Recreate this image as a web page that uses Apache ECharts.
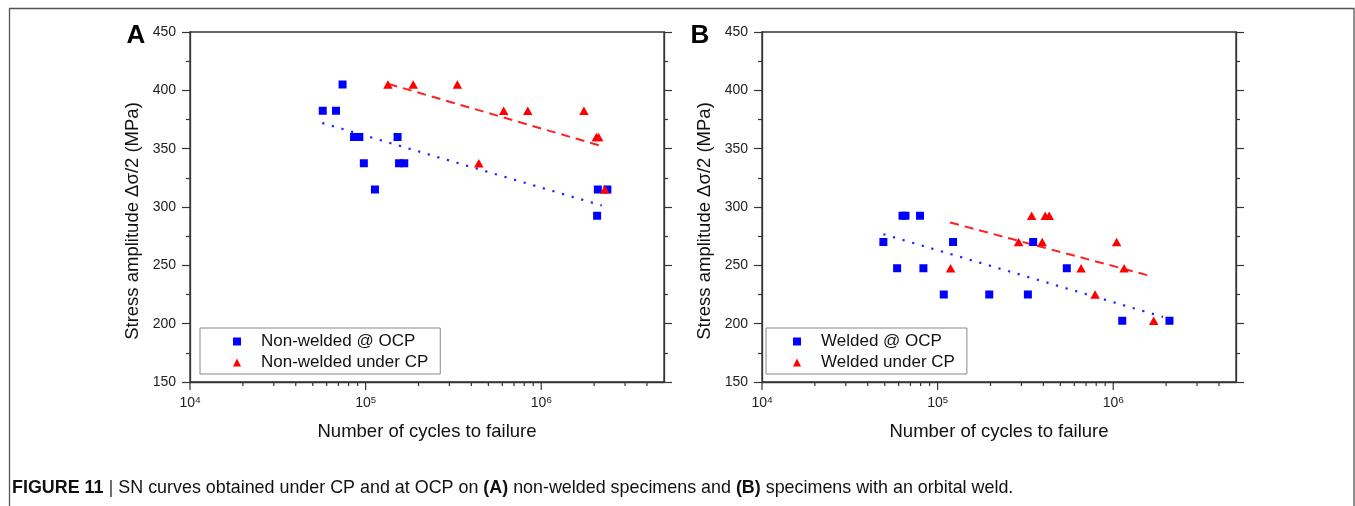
<!DOCTYPE html>
<html lang="en">
<head>
<meta charset="UTF-8">
<title>SN curves under CP and at OCP</title>
<script src="https://cdn.jsdelivr.net/npm/echarts/dist/echarts.min.js"></script>
<style>
    html, body { margin: 0; padding: 0; background: #fff; }
    #main { width: 1355px; height: 506px; }
</style>
</head>
<body>
<div id="main"></div>
<script>
// (A) non-welded specimens
var ocpA_N = [57000, 67800, 73900, 85900, 92100, 97700, 113000, 152000, 155000, 166000, 2080000, 2100000, 2380000];
var ocpA_S = [382.5, 382.5, 405, 360, 360, 337.5, 315, 360, 337.5, 337.5, 292.5, 315, 315];
var cpA_N = [134000, 186600, 333000, 441000, 611000, 838000, 1750000, 2060000, 2120000, 2300000];
var cpA_S = [405, 405, 405, 337.5, 382.5, 382.5, 382.5, 360, 360, 315];
// fitted lines, end points
var fitOcpA_N = [56600, 2210000];
var fitOcpA_S = [372, 301.3];
var fitCpA_N = [135000, 2290000];
var fitCpA_S = [405.5, 351.5];

// (B) specimens with an orbital weld
var ocpB_N = [49100, 63100, 65600, 79400, 58800, 83000, 122400, 108400, 196800, 326600, 350000, 544000, 1125000, 2090000];
var ocpB_S = [270, 292.5, 292.5, 292.5, 247.5, 247.5, 270, 225, 225, 225, 270, 247.5, 202.5, 202.5];
var cpB_N = [118500, 289000, 343000, 410000, 432000, 394000, 656000, 788000, 1045000, 1153000, 1700000];
var cpB_S = [247.5, 270, 292.5, 292.5, 292.5, 270, 247.5, 225, 270, 247.5, 202.5];
var fitOcpB_N = [49100, 1920000];
var fitOcpB_S = [276.7, 205.8];
var fitCpB_N = [117800, 1580000];
var fitCpB_S = [286.7, 241.4];

// axes
var yTicks = [150, 200, 250, 300, 350, 400, 450];
var xDecades = [10000, 100000, 1000000];
var xMinorTicks = [20000, 30000, 40000, 50000, 60000, 70000, 80000, 90000,
    200000, 300000, 400000, 500000, 600000, 700000, 800000, 900000,
    2000000, 3000000, 4000000];
var xMin = 10000, xMax = 5000000;

var FONT = "'Liberation Sans', Arial, sans-serif";
var AXIS = '#333';

function pairs(xs, ys) {
    return xs.map(function (x, i) { return [x, ys[i]]; });
}

function xAxisFor(gi) {
    return {
        type: 'log', logBase: 10, gridIndex: gi, min: xMin, max: xMax,
        name: 'Number of cycles to failure', nameLocation: 'middle', nameGap: 40,
        nameMoveOverlap: false,
        nameTextStyle: { fontSize: 18.5, color: '#111', fontFamily: FONT },
        axisLine: { lineStyle: { color: AXIS, width: 1.3 } },
        axisTick: { show: false },
        splitLine: { show: false },
        axisLabel: {
            margin: 13,
            hideOverlap: false,
            formatter: function (v) {
                for (var i = 0; i < xDecades.length; i++) {
                    if (Math.abs(v - xDecades[i]) < 1e-6 * xDecades[i]) {
                        return '{b|10}{s|' + Math.round(Math.log10(v)) + '}';
                    }
                }
                return '';
            },
            rich: {
                b: { fontSize: 14, color: '#222', fontFamily: FONT, verticalAlign: 'bottom', lineHeight: 15 },
                s: { fontSize: 9.5, color: '#222', fontFamily: FONT, verticalAlign: 'top', lineHeight: 9 }
            }
        }
    };
}

function yAxisFor(gi, side) {
    var left = side === 'left';
    return {
        type: 'value', gridIndex: gi, position: side,
        min: yTicks[0], max: yTicks[yTicks.length - 1], interval: yTicks[1] - yTicks[0],
        name: left ? 'Stress amplitude \u0394\u03c3/2 (MPa)' : '',
        nameLocation: 'middle', nameGap: 48, nameMoveOverlap: false,
        nameTextStyle: { fontSize: 18.5, color: '#111', fontFamily: FONT, padding: [0, 28, 0, 0] },
        axisLine: { show: true, lineStyle: { color: AXIS, width: 1.3 } },
        axisTick: { show: true, length: 8, lineStyle: { color: AXIS, width: 1.2 } },
        minorTick: { show: true, splitNumber: 2, length: 4, lineStyle: { color: AXIS, width: 1.2 } },
        splitLine: { show: false },
        axisLabel: { show: left, fontSize: 14, color: '#222', fontFamily: FONT, margin: 14 }
    };
}

// ticks of the log axis: decades long, 2..9 short
function xTickSeries(gi, values, len) {
    return {
        type: 'custom', xAxisIndex: gi, yAxisIndex: gi * 2, silent: true, clip: false, z: 5,
        data: values.map(function (v) { return [v, yTicks[0]]; }),
        renderItem: function (params, api) {
            var p = api.coord([api.value(0), api.value(1)]);
            return {
                type: 'line',
                shape: { x1: p[0], y1: p[1], x2: p[0], y2: p[1] + len },
                style: { stroke: AXIS, lineWidth: 1.2 }
            };
        }
    };
}

function fitLine(name, gi, xs, ys, color, dash, width) {
    return {
        name: name, type: 'line', xAxisIndex: gi, yAxisIndex: gi * 2,
        data: pairs(xs, ys), showSymbol: false, symbol: 'none', silent: true, z: 2,
        lineStyle: { color: color, width: width, type: dash }
    };
}

function points(name, gi, xs, ys, color, symbol, size) {
    return {
        name: name, type: 'scatter', xAxisIndex: gi, yAxisIndex: gi * 2,
        data: pairs(xs, ys), symbol: symbol, symbolSize: size, z: 3,
        itemStyle: { color: color, opacity: 1 }
    };
}

function legendFor(names, left, padLeft) {
    return {
        orient: 'vertical', left: left, top: 328,
        data: [{ name: names[0], icon: 'rect' }, { name: names[1], icon: 'triangle' }],
        padding: [5, 12, 3, padLeft], itemGap: 4, itemWidth: 8, itemHeight: 8,
        borderColor: '#888', borderWidth: 1, backgroundColor: '#fff',
        selectedMode: false,
        textStyle: { fontSize: 17, color: '#111', fontFamily: FONT, lineHeight: 17, padding: [0, 0, 0, 15] }
    };
}

var myChart = echarts.init(document.getElementById('main'));

var option = {
    animation: false,
    backgroundColor: '#fff',
    textStyle: { fontFamily: FONT },
    grid: [
        { left: 190, top: 32, width: 474, height: 350, show: true, borderColor: AXIS, borderWidth: 1.3, outerBoundsMode: 'none', containLabel: false },
        { left: 762, top: 32, width: 474, height: 350, show: true, borderColor: AXIS, borderWidth: 1.3, outerBoundsMode: 'none', containLabel: false }
    ],
    xAxis: [xAxisFor(0), xAxisFor(1)],
    yAxis: [yAxisFor(0, 'left'), yAxisFor(0, 'right'), yAxisFor(1, 'left'), yAxisFor(1, 'right')],
    legend: [
        legendFor(['Non-welded @ OCP', 'Non-welded under CP'], 200, 33),
        legendFor(['Welded @ OCP', 'Welded under CP'], 766, 27)
    ],
    series: [
        xTickSeries(0, xDecades, 8),
        xTickSeries(0, xMinorTicks, 4),
        xTickSeries(1, xDecades, 8),
        xTickSeries(1, xMinorTicks, 4),
        fitLine('fit A OCP', 0, fitOcpA_N, fitOcpA_S, '#2222ff', [2.2, 7.8], 2.2),
        fitLine('fit A CP', 0, fitCpA_N, fitCpA_S, '#ff2020', [9, 6], 2),
        fitLine('fit B OCP', 1, fitOcpB_N, fitOcpB_S, '#2222ff', [2.2, 7.8], 2.2),
        fitLine('fit B CP', 1, fitCpB_N, fitCpB_S, '#ff2020', [9, 6], 2),
        points('Non-welded @ OCP', 0, ocpA_N, ocpA_S, '#0000ff', 'rect', 8),
        points('Non-welded under CP', 0, cpA_N, cpA_S, '#ff0000', 'triangle', [9.5, 8.5]),
        points('Welded @ OCP', 1, ocpB_N, ocpB_S, '#0000ff', 'rect', 8),
        points('Welded under CP', 1, cpB_N, cpB_S, '#ff0000', 'triangle', [9.5, 8.5])
    ],
    graphic: [
        {
            type: 'polyline', silent: true,
            shape: { points: [[9.5, 506], [9.5, 8.5], [1354, 8.5], [1354, 506]] },
            style: { stroke: '#555', lineWidth: 1.3, fill: null }
        },
        { type: 'text', x: 136, y: 36, style: { text: 'A', fontSize: 26, fontWeight: 'bold', fontFamily: FONT, fill: '#000', align: 'center', verticalAlign: 'middle' } },
        { type: 'text', x: 700, y: 36, style: { text: 'B', fontSize: 26, fontWeight: 'bold', fontFamily: FONT, fill: '#000', align: 'center', verticalAlign: 'middle' } },
        {
            type: 'text', x: 12, y: 488,
            style: {
                text: '{b|FIGURE 11} {bar||} SN curves obtained under CP and at OCP on {b|(A)} non-welded specimens and {b|(B)} specimens with an orbital weld.',
                fontSize: 17.9, fontFamily: FONT,
                fill: '#111', verticalAlign: 'middle',
                rich: {
                    b: { fontSize: 17.9, fontWeight: 'bold', fontFamily: FONT, fill: '#111' },
                    bar: { fontSize: 19, fontFamily: FONT, fill: '#444' }
                }
            }
        }
    ]
};

myChart.setOption(option);
</script>
</body>
</html>
